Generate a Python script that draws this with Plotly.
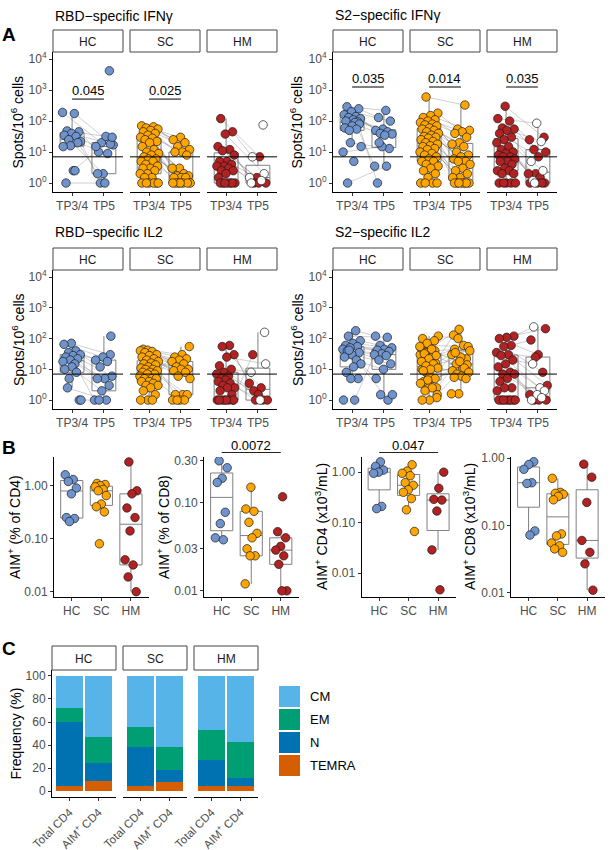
import numpy as np
import plotly.graph_objects as go

W, H = 612, 850
FONT = "Liberation Sans, Arial, Helvetica, sans-serif"
TICK_GREY = "#4D4D4D"

GROUPS = ["HC", "SC", "HM"]
GROUP_COLORS = ["#6F94CD", "#FFA500", "#B22222"]
TIMEPOINTS = ["TP3/4", "TP5"]
THRESHOLD = 7
A_TICK_VALUES = [1, 10, 100, 1000, 10000]
A_TICK_LABELS = ["10<sup>0</sup>", "10<sup>1</sup>", "10<sup>2</sup>", "10<sup>3</sup>", "10<sup>4</sup>"]

# ---------------- Panel A data (spots / 10^6 cells) ----------------
rbd_ifn_hc_tp34 = [190, 175, 48, 45, 40, 35, 32, 25, 22, 2.5, 1, 20, 16, 15, 2.5]
rbd_ifn_hc_tp5 = [20, 17, 32, 10, 18, 2, 15, 9, 1, 30, 1, 2, 4200]
rbd_ifn_sc_tp34 = [70, 65, 60, 55, 50, 45, 40, 35, 30, 28, 25, 22, 20, 15, 12, 10, 9, 8, 7, 6, 6, 5, 5, 4,
                   3.5, 3, 3, 2.5, 2, 2, 1.5, 1.5, 1, 1, 1, 1, 1, 1]
rbd_ifn_sc_tp5 = [30, 25, 20, 15, 12, 10, 10, 8, 3, 3, 2, 1.7, 1.7, 1.5, 1.5, 1.5, 1, 1, 1, 1, 1, 1, 1]
rbd_ifn_hm_tp34 = [120, 45, 38, 15, 12, 11, 8, 5, 5, 4, 3.5, 3.5, 3, 2.5, 2.5, 2, 1.5, 1, 1, 1, 1, 1, 1, 1]
rbd_ifn_hm_tp5 = [7, 7, 2, 1.5, 1.5, 1.2, 1, 1, 1, 1, 75]
rbd_ifn_hm_tp5_open = [0, 1, 1, 0, 1, 1, 0, 0, 0, 1, 1]
rbd_ifn_npairs = [12, 20, 10]
rbd_ifn_p = ["0.045", "0.025", ""]

s2_ifn_hc_tp34 = [290, 250, 200, 160, 140, 130, 120, 110, 100, 95, 20, 10, 90, 1, 80, 70, 60, 55, 50, 15, 5]
s2_ifn_hc_tp5 = [220, 130, 100, 55, 50, 45, 40, 38, 35, 1, 13, 15, 3.5, 3.5, 20]
s2_ifn_sc_tp34 = [600, 180, 150, 130, 110, 100, 90, 80, 75, 70, 60, 55, 50, 45, 40, 35, 32, 30, 28, 25, 22, 20,
                  18, 16, 15, 13, 12, 10, 9, 8, 7, 6, 5, 5, 4, 3.5, 3, 2.5, 2, 1.5, 1, 1, 1, 1]
s2_ifn_sc_tp5 = [330, 55, 50, 45, 40, 30, 20, 18, 15, 10, 8, 7, 6, 5, 5, 4, 3, 2.5, 2, 1.5, 1.5, 1, 1, 1, 1, 1, 1, 1]
s2_ifn_hm_tp34 = [300, 120, 100, 60, 55, 50, 40, 30, 25, 20, 15, 12, 10, 9, 8, 7, 7, 6, 5, 5, 4, 3, 2.5, 2.5,
                  2, 2, 1, 1, 1, 1, 1]
s2_ifn_hm_tp5 = [30, 85, 25, 22, 12, 10, 7, 5, 2.5, 2, 2, 1.5, 1.2, 1, 1, 1, 1, 1]
s2_ifn_hm_tp5_open = [0, 1, 0, 1, 0, 0, 0, 1, 1, 0, 0, 0, 1, 0, 0, 0, 0, 1]
s2_ifn_npairs = [14, 24, 14]
s2_ifn_p = ["0.035", "0.014", "0.035"]

rbd_il2_hc_tp34 = [70, 65, 40, 35, 30, 28, 25, 22, 20, 18, 15, 2.5, 1, 12, 10, 8, 5, 1]
rbd_il2_hc_tp5 = [30, 25, 20, 18, 12, 6, 5, 5, 3, 2, 1, 1, 1, 120]
rbd_il2_sc_tp34 = [7, 45, 6, 42, 40, 38, 35, 30, 28, 25, 22, 20, 18, 16, 15, 14, 12, 11, 10, 10, 9, 8, 8, 7, 7,
                   6, 5, 5, 5, 4, 4, 3.5, 3, 3, 2.5, 2, 1.5, 1, 1, 1]
rbd_il2_sc_tp5 = [55, 30, 25, 22, 20, 18, 15, 12, 10, 10, 9, 8, 6, 5, 1.5, 1.5, 1.5, 1, 1, 1, 1]
rbd_il2_hm_tp34 = [60, 55, 30, 25, 13, 10, 8, 7, 6, 5, 1, 4.5, 4, 3.5, 3, 2.5, 2.5, 2, 1.5, 1, 1, 1, 1, 1, 1, 1]
rbd_il2_hm_tp5 = [3.5, 2.5, 2, 15, 1.5, 8, 1, 1, 1, 1, 30, 160]
rbd_il2_hm_tp5_open = [0, 0, 0, 1, 0, 1, 0, 0, 0, 1, 0, 1]
rbd_il2_npairs = [13, 18, 11]
rbd_il2_p = ["", "", ""]

s2_il2_hc_tp34 = [180, 120, 85, 70, 60, 55, 50, 45, 1, 40, 35, 30, 25, 20, 42, 15, 12, 8, 5, 5, 1]
s2_il2_hc_tp5 = [120, 110, 60, 50, 45, 42, 38, 32, 30, 28, 20, 15, 10, 5, 1, 1.5, 1.5]
s2_il2_sc_tp34 = [40, 3, 30, 5, 20, 2.5, 60, 10, 14, 8, 120, 25, 4, 16, 7, 50, 12, 35, 1.5, 6, 100, 85, 70, 55,
                  45, 32, 28, 22, 18, 15, 13, 11, 10, 9, 5, 4.5, 3.5, 2.5, 2, 1.2, 1, 1]
s2_il2_sc_tp5 = [45, 22, 200, 30, 60, 15, 55, 25, 130, 12, 100, 40, 10, 35, 14, 18, 9, 11, 7, 8, 6, 5.5, 5, 1.6, 1.6]
s2_il2_hm_tp34 = [120, 110, 100, 60, 55, 35, 30, 28, 20, 15, 12, 8, 7, 7, 5, 4, 2.5, 2.5, 2, 1, 1, 1, 1, 1, 1, 1, 1]
s2_il2_hm_tp5 = [240, 210, 30, 90, 8, 25, 3, 2.5, 15, 2, 1.5, 1.5, 1.2, 1, 1, 1, 1]
s2_il2_hm_tp5_open = [1, 0, 0, 0, 0, 0, 0, 1, 1, 1, 1, 0, 1, 0, 0, 0, 1]
s2_il2_npairs = [15, 20, 14]
s2_il2_p = ["", "", ""]

# ---------------- Panel B data ----------------
cd4_pct_hc = [1.6, 1.3, 1.2, 0.9, 0.7, 0.25, 0.24, 0.21]
cd4_pct_sc = [1.1, 1.05, 1.0, 0.95, 0.85, 0.8, 0.65, 0.45, 0.4, 0.32, 0.08]
cd4_pct_hm = [2.8, 0.8, 0.7, 0.38, 0.25, 0.14, 0.04, 0.032, 0.019, 0.01]
cd8_pct_hc = [0.30, 0.25, 0.19, 0.17, 0.078, 0.058, 0.04, 0.038]
cd8_pct_sc = [0.15, 0.085, 0.08, 0.06, 0.045, 0.04, 0.03, 0.025, 0.025, 0.012]
cd8_pct_hm = [0.117, 0.047, 0.04, 0.032, 0.029, 0.025, 0.02, 0.01, 0.01]
cd4_abs_hc = [1.6, 1.3, 1.1, 1.0, 0.95, 0.21, 0.19]
cd4_abs_sc = [1.4, 1.05, 0.95, 0.85, 0.62, 0.55, 0.45, 0.40, 0.30, 0.18, 0.067]
cd4_abs_hm = [1.0, 0.48, 0.29, 0.28, 0.17, 0.029, 0.0047]
cd8_abs_hc = [0.88, 0.8, 0.68, 0.43, 0.42, 0.083, 0.072]
cd8_abs_sc = [0.5, 0.31, 0.30, 0.29, 0.27, 0.24, 0.075, 0.07, 0.055, 0.05, 0.045, 0.04]
cd8_abs_hm = [0.81, 0.52, 0.22, 0.06, 0.04, 0.027, 0.011]
B_TICKS_3 = [0.01, 0.1, 1]
B_LABELS_3 = ["0.01", "0.10", "1.00"]
B_TICKS_CD8 = [0.01, 0.03, 0.1, 0.3]
B_LABELS_CD8 = ["0.01", "0.03", "0.10", "0.30"]
b_pvals = ["", "0.0072", "0.047", ""]

# ---------------- Panel C data (%) ----------------
C_CATEGORIES = ["Total CD4", "AIM<sup>+</sup> CD4"]
C_SUBSETS = ["CM", "EM", "N", "TEMRA"]
C_COLORS = ["#56B4E9", "#009E73", "#0072B2", "#D55E00"]
# order: HC total, HC AIM+, SC total, SC AIM+, HM total, HM AIM+
c_cm = [28, 53, 44, 62, 47, 57]
c_em = [12, 23, 18, 20, 26, 32]
c_n = [56, 15, 34, 10, 23, 7]
c_temra = [4, 9, 4, 8, 4, 4]
C_TICKS = [0, 20, 40, 60, 80, 100]

# =====================================================================
fig = go.Figure()
LAYOUT = {}
SHAPES = []
ANNS = []
AXINFO = {}


def base_axis():
    return dict(showgrid=False, zeroline=False, showline=True, linecolor="black", linewidth=1,
                ticks="outside", ticklen=3, tickwidth=1, tickcolor="#333333", automargin=False,
                tickfont=dict(family=FONT, size=12, color=TICK_GREY), fixedrange=True)


def add_axes(x0, x1, y0, y1, xrange, yrange, xticks, yticks=None, show_y=True, xtickangle=None):
    k = len(AXINFO) + 1
    s = "" if k == 1 else str(k)
    xa, ya = base_axis(), base_axis()
    xa.update(domain=[x0 / W, x1 / W], range=xrange, anchor="y" + s,
              tickmode="array", tickvals=xticks[0], ticktext=xticks[1])
    if xtickangle is not None:
        xa["tickangle"] = xtickangle
    ya.update(domain=[1 - y1 / H, 1 - y0 / H], range=yrange, anchor="x" + s)
    if show_y and yticks is not None:
        ya.update(tickmode="array", tickvals=yticks[0], ticktext=yticks[1])
    else:
        ya.update(showline=False, showticklabels=False, ticks="")
    LAYOUT["xaxis" + s] = xa
    LAYOUT["yaxis" + s] = ya
    AXINFO["x" + s] = ((x0, x1), xrange, (y0, y1), yrange)
    return "x" + s, "y" + s


def to_px(xr, xv, yv):
    (x0, x1), (a0, a1), (y0, y1), (b0, b1) = AXINFO[xr]
    return x0 + (xv - a0) / (a1 - a0) * (x1 - x0), y1 - (yv - b0) / (b1 - b0) * (y1 - y0)


def text(px_, py_, s, size=14, angle=0, xanchor="center", bold=False, color="black"):
    ANNS.append(dict(text=f"<b>{s}</b>" if bold else s, xref="paper", yref="paper",
                     x=px_ / W, y=1 - py_ / H, showarrow=False, textangle=angle,
                     xanchor=xanchor, yanchor="middle",
                     font=dict(size=size, color=color, family=FONT)))


def strip(x0, x1, y0, y1, label):
    SHAPES.append(dict(type="rect", xref="paper", yref="paper", x0=x0 / W, x1=x1 / W,
                       y0=1 - y1 / H, y1=1 - y0 / H, line=dict(color="#444444", width=1),
                       fillcolor="white", layer="above"))
    text((x0 + x1) / 2, (y0 + y1) / 2 + 0.5, label, size=12, color="#1A1A1A")


def jitter(n, half, phase):
    k = np.arange(n)
    return ((k * 0.6180339887 + phase) % 1.0 - 0.5) * 2 * half


def marker(color):
    return dict(size=8.5, color=color, line=dict(color="#1A1A1A", width=0.7))


def box(xr, yr, xpos, logv):
    fig.add_trace(go.Box(x=[xpos] * len(logv), y=logv, width=0.75, boxpoints="outliers",
                         marker=dict(opacity=0, size=1), line=dict(color="#808080", width=1),
                         fillcolor="rgba(0,0,0,0)", whiskerwidth=0, quartilemethod="inclusive",
                         xaxis=xr, yaxis=yr, showlegend=False, hoverinfo="skip"))


# ---------------- Panel A ----------------
panelsA = [
    ("RBD−specific IFNγ",
     [(rbd_ifn_hc_tp34, rbd_ifn_hc_tp5, None), (rbd_ifn_sc_tp34, rbd_ifn_sc_tp5, None),
      (rbd_ifn_hm_tp34, rbd_ifn_hm_tp5, rbd_ifn_hm_tp5_open)], rbd_ifn_npairs, rbd_ifn_p),
    ("S2−specific IFNγ",
     [(s2_ifn_hc_tp34, s2_ifn_hc_tp5, None), (s2_ifn_sc_tp34, s2_ifn_sc_tp5, None),
      (s2_ifn_hm_tp34, s2_ifn_hm_tp5, s2_ifn_hm_tp5_open)], s2_ifn_npairs, s2_ifn_p),
    ("RBD−specific IL2",
     [(rbd_il2_hc_tp34, rbd_il2_hc_tp5, None), (rbd_il2_sc_tp34, rbd_il2_sc_tp5, None),
      (rbd_il2_hm_tp34, rbd_il2_hm_tp5, rbd_il2_hm_tp5_open)], rbd_il2_npairs, rbd_il2_p),
    ("S2−specific IL2",
     [(s2_il2_hc_tp34, s2_il2_hc_tp5, None), (s2_il2_sc_tp34, s2_il2_sc_tp5, None),
      (s2_il2_hm_tp34, s2_il2_hm_tp5, s2_il2_hm_tp5_open)], s2_il2_npairs, s2_il2_p),
]
A_COL_X = [53, 333]
A_STRIP_Y = [30, 248]
A_STRIP_H = 22
A_PLOT_H = [140, 139]
FACET_W, FACET_STEP = 70, 77
A_YRANGE = [-0.29, 4.23]
A_XRANGE = [0.4, 2.6]
A_PVAL_LINE = [2.71, 3.10, None, None]
A_TITLE_Y = [16, 15, 232, 232]
a_yticks = (list(np.log10(A_TICK_VALUES)), A_TICK_LABELS)

for pi, (title, groups, npairs, pvals) in enumerate(panelsA):
    col, row = pi % 2, pi // 2
    text(A_COL_X[col], A_TITLE_Y[pi], title, size=14, xanchor="left")
    sy0 = A_STRIP_Y[row]
    sy1 = sy0 + A_STRIP_H
    pby = sy1 + A_PLOT_H[row]
    text(17.5 if col == 0 else 296.5, (sy1 + pby) / 2, "Spots/10<sup>6</sup> cells", size=14, angle=-90)
    for gi, (tp34, tp5, opn) in enumerate(groups):
        fx0 = A_COL_X[col] + gi * FACET_STEP
        fx1 = fx0 + FACET_W
        xr, yr = add_axes(fx0, fx1, sy1, pby, A_XRANGE, A_YRANGE, ([1, 2], TIMEPOINTS),
                          a_yticks, show_y=(gi == 0))
        strip(fx0, fx1, sy0, sy1, GROUPS[gi])
        SHAPES.append(dict(type="line", xref=f"{xr} domain", yref=yr, x0=0, x1=1,
                           y0=np.log10(THRESHOLD), y1=np.log10(THRESHOLD),
                           line=dict(color="black", width=1), layer="above"))
        y34 = np.log10(tp34)
        y5 = np.log10(tp5)
        box(xr, yr, 1, y34)
        box(xr, yr, 2, y5)
        j34 = jitter(len(y34), 0.3, 0.11 * gi + 0.23 * pi)
        j5 = jitter(len(y5), 0.3, 0.37 + 0.11 * gi + 0.23 * pi)
        lx, ly = [], []
        for i in range(npairs[gi]):
            lx += [1 + j34[i], 2 + j5[i], None]
            ly += [y34[i], y5[i], None]
        fig.add_trace(go.Scatter(x=lx, y=ly, mode="lines", line=dict(color="rgba(110,110,110,0.55)", width=0.6),
                                 xaxis=xr, yaxis=yr, showlegend=False, hoverinfo="skip"))
        fig.add_trace(go.Scatter(x=1 + j34, y=y34, mode="markers", marker=marker(GROUP_COLORS[gi]),
                                 xaxis=xr, yaxis=yr, showlegend=False, hoverinfo="skip"))
        o = np.zeros(len(y5), dtype=bool) if opn is None else np.array(opn, dtype=bool)
        fig.add_trace(go.Scatter(x=(2 + j5)[~o], y=y5[~o], mode="markers", marker=marker(GROUP_COLORS[gi]),
                                 xaxis=xr, yaxis=yr, showlegend=False, hoverinfo="skip"))
        if o.any():
            fig.add_trace(go.Scatter(x=(2 + j5)[o], y=y5[o], mode="markers", marker=marker("white"),
                                     xaxis=xr, yaxis=yr, showlegend=False, hoverinfo="skip"))
        if pvals[gi]:
            ypl = A_PVAL_LINE[pi]
            SHAPES.append(dict(type="line", xref=xr, yref=yr, x0=1, x1=2, y0=ypl, y1=ypl,
                               line=dict(color="black", width=1)))
            ANNS.append(dict(text=pvals[gi], xref=xr, yref=yr, x=1.5, y=ypl + 0.28, showarrow=False,
                             xanchor="center", yanchor="middle",
                             font=dict(size=13, color="black", family=FONT)))

text(8.5, 35, "A", size=19, bold=True)

# ---------------- Panel B ----------------
B_PLOT_Y = (457, 597)
B_XRANGE = [0.4, 3.6]
panelsB = [
    ([cd4_pct_hc, cd4_pct_sc, cd4_pct_hm], (54, 148.7), [-2.1, 0.54], (B_TICKS_3, B_LABELS_3),
     "AIM<sup>+</sup> (% of CD4)", 14),
    ([cd8_pct_hc, cd8_pct_sc, cd8_pct_hm], (204, 298.5), [-2.07, -0.48], (B_TICKS_CD8, B_LABELS_CD8),
     "AIM<sup>+</sup> (% of CD8)", 163),
    ([cd4_abs_hc, cd4_abs_sc, cd4_abs_hm], (361.5, 455.7), [-2.47, 0.30], (B_TICKS_3, B_LABELS_3),
     "AIM<sup>+</sup> CD4 (x10<sup>3</sup>/mL)", 321),
    ([cd8_abs_hc, cd8_abs_sc, cd8_abs_hm], (511, 604.7), [-2.06, 0.015], (B_TICKS_3, B_LABELS_3),
     "AIM<sup>+</sup> CD8 (x10<sup>3</sup>/mL)", 469),
]
for bi, (vals, (x0, x1), yrange, (tv, tl), ytitle, tx) in enumerate(panelsB):
    xr, yr = add_axes(x0, x1, B_PLOT_Y[0], B_PLOT_Y[1], B_XRANGE, yrange, ([1, 2, 3], GROUPS),
                      (list(np.log10(tv)), tl))
    text(tx, sum(B_PLOT_Y) / 2, ytitle, size=14, angle=-90)
    for gi, v in enumerate(vals):
        lv = np.log10(v)
        box(xr, yr, gi + 1, lv)
        jx = jitter(len(lv), 0.22, 0.17 * gi + 0.3 * bi)
        fig.add_trace(go.Scatter(x=gi + 1 + jx, y=lv, mode="markers", marker=marker(GROUP_COLORS[gi]),
                                 xaxis=xr, yaxis=yr, showlegend=False, hoverinfo="skip"))
    if b_pvals[bi]:
        xa_, _ = to_px(xr, 1, 0)
        xb_, _ = to_px(xr, 3, 0)
        ly_ = B_PLOT_Y[0] - 4.5
        SHAPES.append(dict(type="line", xref="paper", yref="paper", x0=xa_ / W, x1=xb_ / W,
                           y0=1 - ly_ / H, y1=1 - ly_ / H, line=dict(color="#222222", width=1)))
        text((xa_ + xb_) / 2, B_PLOT_Y[0] - 12, b_pvals[bi], size=13)

text(8.5, 447, "B", size=19, bold=True)

# ---------------- Panel C ----------------
C_X0, C_FW, C_STEP = 52, 64, 71
C_STRIP = (646, 670)
C_BOTTOM = 797
C_YRANGE = [-5.2, 105.2]
c_series = [c_temra, c_n, c_em, c_cm]
c_names = ["TEMRA", "N", "EM", "CM"]
for gi in range(3):
    fx0 = C_X0 + gi * C_STEP
    fx1 = fx0 + C_FW
    xr, yr = add_axes(fx0, fx1, C_STRIP[1], C_BOTTOM, A_XRANGE, C_YRANGE, ([1, 2], C_CATEGORIES),
                      (C_TICKS, [str(t) for t in C_TICKS]), show_y=(gi == 0), xtickangle=-45)
    LAYOUT["xaxis" + xr[1:]]["tickfont"] = dict(family=FONT, size=11.5, color=TICK_GREY)
    strip(fx0, fx1, C_STRIP[0], C_STRIP[1], GROUPS[gi])
    for ser, name in zip(c_series, c_names):
        fig.add_trace(go.Bar(x=[1, 2], y=ser[2 * gi:2 * gi + 2], width=0.9,
                             marker=dict(color=C_COLORS[C_SUBSETS.index(name)], line=dict(width=0)),
                             xaxis=xr, yaxis=yr, showlegend=False, hoverinfo="skip"))

text(15, (C_STRIP[1] + C_BOTTOM) / 2, "Frequency (%)", size=14, angle=-90)
text(8.5, 648, "C", size=19, bold=True)

# legend
for li, (name, colr) in enumerate(zip(C_SUBSETS, C_COLORS)):
    ky = 686 + li * 23
    SHAPES.append(dict(type="rect", xref="paper", yref="paper", x0=279 / W, x1=300 / W,
                       y0=1 - (ky + 21) / H, y1=1 - ky / H, line=dict(width=0), fillcolor=colr))
    text(308, ky + 10.5, name, size=13, xanchor="left")

LAYOUT.update(template="none", width=W, height=H, margin=dict(l=0, r=0, t=0, b=0, autoexpand=False),
              paper_bgcolor="white", plot_bgcolor="white", showlegend=False, boxmode="overlay",
              barmode="stack", font=dict(family=FONT, color="black"), shapes=SHAPES, annotations=ANNS)
fig.update_layout(**LAYOUT)
fig.write_html("out.html", config={"displayModeBar": False},
               post_script="document.body.style.margin='0px';document.body.style.overflow='hidden';")
